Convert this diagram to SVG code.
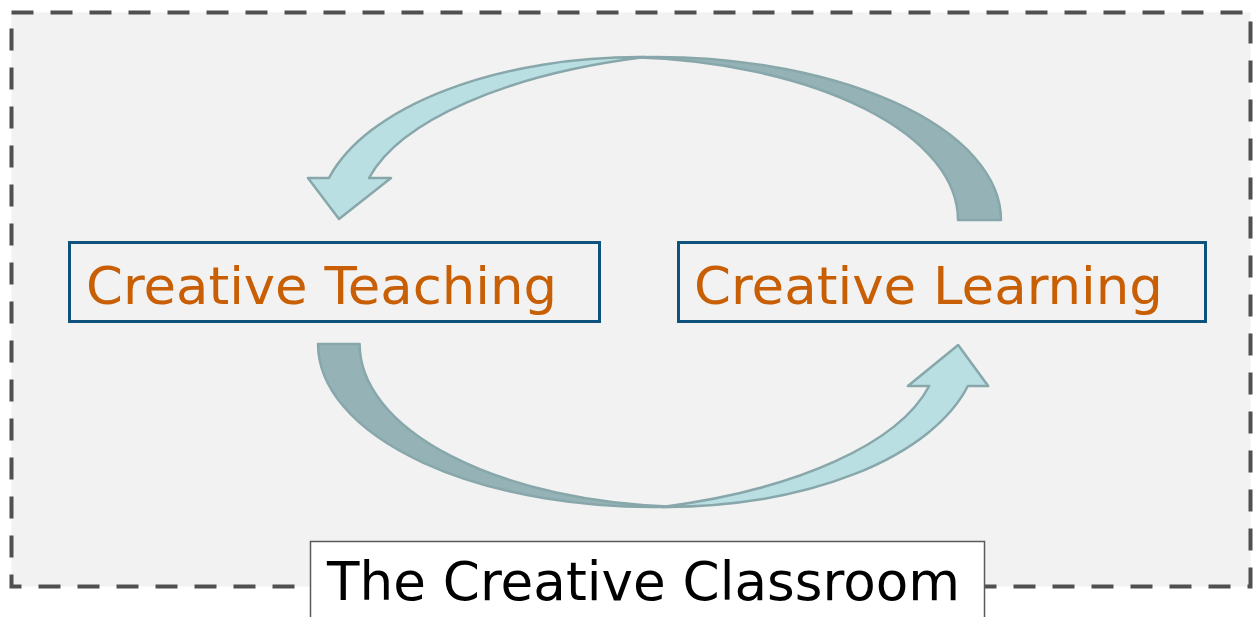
<svg xmlns="http://www.w3.org/2000/svg" width="1255" height="617" viewBox="0 0 1255 617">
  <style>
    .frame { fill: #f2f2f2; stroke: #505050; stroke-width: 4; stroke-dasharray: 22 17; }
    .node-box { fill: none; stroke: #0f527e; stroke-width: 3; }
    .node-text { font-family: "DejaVu Sans", Verdana, sans-serif; font-size: 52px; fill: #c85f05; }
    .label-box { fill: #ffffff; stroke: #5a5a5a; stroke-width: 1.5; }
    .label-text { font-family: "DejaVu Sans", Verdana, sans-serif; font-size: 53px; fill: #000000; }
    .back { fill: #95b3b6; stroke: #88a7aa; stroke-width: 2.5; stroke-linejoin: round; }
    .front { fill: #badfe3; stroke: #88a7aa; stroke-width: 2.5; stroke-linejoin: round; }
  </style>
  <defs>
    <!-- curved ribbon arrow: darker back band from the base, lighter front band ending in the head -->
    <g id="curved-arrow">
      <path class="back" vector-effect="non-scaling-stroke"
            d="M 1001 220 A 346 163 0 0 0 633.5 57.3 A 346 163 0 0 1 958 220 Z"/>
      <path class="front" vector-effect="non-scaling-stroke"
            d="M 339 219 L 391 178 L 369 178 A 406 163 0 0 1 645 57.1 A 322 163 0 0 0 329 178 L 308 178 Z"/>
    </g>
  </defs>

  <!-- dashed outer frame -->
  <rect class="frame" x="11.5" y="12.5" width="1239" height="574"/>

  <g id="connectors">
    <use id="arrow-learning-to-teaching" href="#curved-arrow"/>
    <use id="arrow-teaching-to-learning" href="#curved-arrow" transform="matrix(-0.967 0 0 -1 1286 564)"/>
  </g>

  <g id="node-teaching">
    <rect class="node-box" x="69.5" y="242.5" width="530" height="79"/>
    <text class="node-text" x="86" y="304" textLength="471" lengthAdjust="spacingAndGlyphs">Creative Teaching</text>
  </g>

  <g id="node-learning">
    <rect class="node-box" x="678.5" y="242.5" width="527" height="79"/>
    <text class="node-text" x="694" y="304" textLength="469" lengthAdjust="spacingAndGlyphs">Creative Learning</text>
  </g>

  <g id="node-classroom">
    <rect class="label-box" x="310.5" y="541.5" width="674" height="100"/>
    <text class="label-text" x="327" y="600" textLength="633" lengthAdjust="spacingAndGlyphs">The Creative Classroom</text>
  </g>
</svg>
